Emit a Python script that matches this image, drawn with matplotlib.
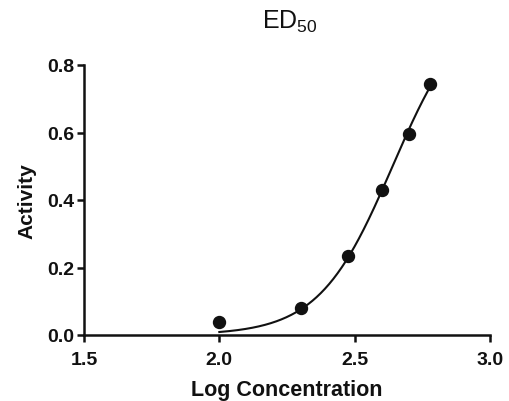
import numpy as np
import matplotlib
matplotlib.use("Agg")
import matplotlib.pyplot as plt

# ---- data ----
log_conc = [2.0, 2.301, 2.477, 2.602, 2.699, 2.778]
activity = [0.038, 0.079, 0.234, 0.431, 0.595, 0.743]

# fitted dose-response curve parameters (4PL)
fit_bottom = 0.0
fit_top = 1.0
fit_logec50 = 2.64
fit_hill = 3.2

x_ticks = [1.5, 2.0, 2.5, 3.0]
y_ticks = [0.0, 0.2, 0.4, 0.6, 0.8]
title = r"ED$_{50}$"
x_label = "Log Concentration"
y_label = "Activity"

plt.rcParams["font.family"] = ["Liberation Sans", "DejaVu Sans"]
plt.rcParams["mathtext.fontset"] = "custom"
plt.rcParams["mathtext.rm"] = "Liberation Sans"
plt.rcParams["mathtext.default"] = "regular"

fig = plt.figure(figsize=(5.10, 4.02), dpi=100)
ax = fig.add_axes([84 / 510, 66 / 402, (490 - 84) / 510, (336 - 66) / 402])

xc = np.linspace(min(log_conc), max(log_conc), 300)
yc = fit_bottom + (fit_top - fit_bottom) / (1 + 10 ** ((fit_logec50 - xc) * fit_hill))
ax.plot(xc, yc, color="#111111", lw=1.5, zorder=2)
ax.plot(log_conc, activity, "o", color="#111111", ms=8.6, zorder=3, clip_on=False)

ax.set_xlim(1.5, 3.0)
ax.set_ylim(0.0, 0.8)
ax.set_xticks(x_ticks)
ax.set_yticks(y_ticks)
ax.set_xticklabels([f"{v:.1f}" for v in x_ticks])
ax.set_yticklabels([f"{v:.1f}" for v in y_ticks])

for s in ["top", "right"]:
    ax.spines[s].set_visible(False)
for s in ["left", "bottom"]:
    ax.spines[s].set_linewidth(1.8)
    ax.spines[s].set_color("#111111")

ax.tick_params(axis="both", direction="out", length=5, width=1.8, color="#111111",
               labelsize=14, labelcolor="#111111")
ax.tick_params(axis="x", pad=6.5)
ax.tick_params(axis="y", pad=2)
for lab in ax.get_xticklabels() + ax.get_yticklabels():
    lab.set_fontweight("bold")

ax.set_xlabel(x_label, fontsize=15.5, fontweight="bold", color="#111111", labelpad=8)
ax.set_ylabel(y_label, fontsize=15, fontweight="bold", color="#111111", labelpad=8)

fig.text(290 / 510, (402 - 29) / 402, title, ha="center", va="baseline",
         fontsize=18, color="#111111")

fig.savefig("out.png", dpi=100)
